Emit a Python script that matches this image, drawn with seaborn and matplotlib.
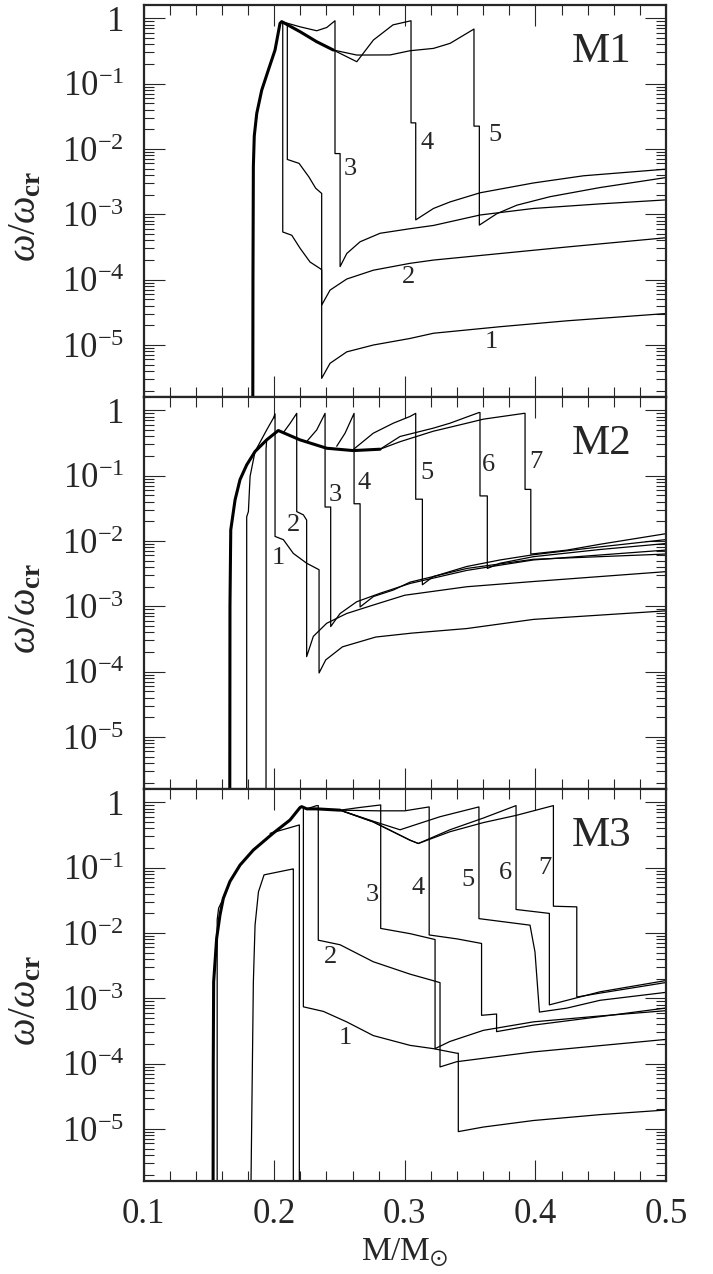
import numpy as np
import pandas as pd
import seaborn as sns
import matplotlib.pyplot as plt
from matplotlib.ticker import MultipleLocator, LogLocator, NullFormatter, FixedLocator

sns.set_style('ticks')
plt.rcParams['font.family'] = ['Liberation Serif', 'DejaVu Serif']
plt.rcParams['mathtext.fontset'] = 'custom'
plt.rcParams['mathtext.rm'] = 'Liberation Serif'
plt.rcParams['mathtext.it'] = 'Liberation Serif:italic'
plt.rcParams['mathtext.bf'] = 'Liberation Serif:bold'

# ---- data: x = M/Msun, values stored as log10(omega/omega_cr) ----
# panel M1
m1_thick_x = [0.1836, 0.1838, 0.1841, 0.1848, 0.1867, 0.1905, 0.1956, 0.2007, 0.2045, 0.2058, 0.2199, 0.2326, 0.2453]
m1_thick_lg = [-7, -4.0, -2.27, -1.80, -1.455, -1.10, -0.79, -0.485, -0.077, -0.05, -0.205, -0.358, -0.485]
m1_c1_x = [0.2058, 0.2066, 0.2066, 0.2135, 0.2199, 0.2275, 0.2352, 0.2364, 0.2364, 0.2428, 0.2556, 0.276, 0.304, 0.322, 0.373, 0.424, 0.499]
m1_c1_lg = [-0.05, -0.06, -3.27, -3.32, -3.52, -3.73, -3.83, -3.85, -5.51, -5.28, -5.105, -5.0, -4.90, -4.82, -4.72, -4.63, -4.52]
m1_c2_x = [0.2058, 0.2101, 0.2101, 0.2191, 0.2267, 0.2318, 0.2364, 0.2364, 0.2428, 0.2556, 0.276, 0.304, 0.322, 0.373, 0.424, 0.499]
m1_c2_lg = [-0.05, -0.10, -2.16, -2.22, -2.43, -2.60, -2.68, -4.39, -4.16, -3.99, -3.855, -3.75, -3.70, -3.60, -3.50, -3.36]
m1_c3_x = [0.2058, 0.2199, 0.2326, 0.2403, 0.2466, 0.2466, 0.2505, 0.2505, 0.2556, 0.2658, 0.2811, 0.304, 0.322, 0.3577, 0.3985, 0.4495, 0.499]
m1_c3_lg = [-0.05, -0.13, -0.19, -0.14, -0.037, -2.07, -2.07, -3.80, -3.60, -3.42, -3.29, -3.22, -3.17, -3.01, -2.91, -2.84, -2.78]
m1_c4_x = [0.2453, 0.2633, 0.276, 0.291, 0.3048, 0.3048, 0.3084, 0.3084, 0.322, 0.3347, 0.3577, 0.3985, 0.4368, 0.499]
m1_c4_lg = [-0.485, -0.664, -0.332, -0.10, -0.037, -1.60, -1.60, -3.085, -2.91, -2.81, -2.67, -2.52, -2.41, -2.31]
m1_c5_x = [0.2453, 0.2633, 0.2888, 0.304, 0.322, 0.3347, 0.353, 0.353, 0.3571, 0.3571, 0.3705, 0.3858, 0.4112, 0.4495, 0.499]
m1_c5_lg = [-0.485, -0.562, -0.56, -0.496, -0.46, -0.383, -0.164, -1.65, -1.65, -3.165, -2.99, -2.86, -2.73, -2.59, -2.44]

# panel M2
m2_thick_x = [0.1660, 0.1662, 0.1668, 0.1701, 0.1739, 0.1790, 0.1854, 0.1943, 0.2032, 0.2198, 0.2402, 0.2606, 0.2811]
m2_thick_lg = [-7, -3.0, -1.83, -1.37, -1.06, -0.835, -0.63, -0.452, -0.309, -0.452, -0.58, -0.616, -0.595]
m2_late_a_x = [0.1790, 0.1790, 0.1803, 0.1816, 0.1854]
m2_late_a_lg = [-7, -1.63, -1.55, -1.01, -0.63]
m2_late_b_x = [0.1938, 0.1938, 0.1943]
m2_late_b_lg = [-7, -0.60, -0.452]
m2_c1_x = [0.1854, 0.1943, 0.1994, 0.2007, 0.2007, 0.2071, 0.2147, 0.2249, 0.2344, 0.2344, 0.2395, 0.2523, 0.2778, 0.3054, 0.3475, 0.3985, 0.4993]
m2_c1_lg = [-0.63, -0.30, -0.12, -0.054, -1.93, -1.98, -2.19, -2.34, -2.44, -4.02, -3.82, -3.62, -3.47, -3.41, -3.34, -3.20, -3.07]
m2_c2_x = [0.2071, 0.2122, 0.2173, 0.2173, 0.2224, 0.2249, 0.2249, 0.2300, 0.2402, 0.2555, 0.2759, 0.3000, 0.3475, 0.3985, 0.4993]
m2_c2_lg = [-0.34, -0.20, -0.046, -1.55, -1.60, -1.68, -3.77, -3.46, -3.26, -3.11, -2.98, -2.83, -2.70, -2.62, -2.47]
m2_c3_x = [0.2249, 0.2326, 0.2390, 0.2390, 0.2433, 0.2433, 0.2505, 0.2632, 0.2811, 0.304, 0.3475, 0.3985, 0.4993]
m2_c3_lg = [-0.478, -0.30, -0.046, -1.48, -1.48, -3.31, -3.11, -2.93, -2.80, -2.65, -2.45, -2.29, -2.14]
m2_c4_x = [0.2479, 0.2543, 0.2612, 0.2612, 0.2658, 0.2658, 0.2760, 0.2913, 0.304, 0.3475, 0.3985, 0.4993]
m2_c4_lg = [-0.55, -0.35, -0.046, -1.43, -1.43, -3.01, -2.85, -2.75, -2.63, -2.42, -2.28, -2.20]
m2_c5_x = [0.2606, 0.2759, 0.2913, 0.304, 0.3084, 0.3084, 0.3135, 0.3135, 0.3218, 0.3475, 0.373, 0.3985, 0.4495, 0.4993]
m2_c5_lg = [-0.60, -0.35, -0.196, -0.094, -0.046, -1.36, -1.36, -2.67, -2.545, -2.39, -2.29, -2.21, -2.09, -1.98]
m2_c6_x = [0.2811, 0.2964, 0.3218, 0.3346, 0.3568, 0.3576, 0.3576, 0.3632, 0.3632, 0.373, 0.3985, 0.4495, 0.4993]
m2_c6_lg = [-0.595, -0.40, -0.273, -0.197, -0.034, -0.034, -1.31, -1.31, -2.42, -2.34, -2.24, -2.13, -2.04]
m2_c7_x = [0.2811, 0.2964, 0.3218, 0.3475, 0.3602, 0.3914, 0.3921, 0.3921, 0.3965, 0.3965, 0.4240, 0.4495, 0.4993]
m2_c7_lg = [-0.595, -0.48, -0.32, -0.197, -0.135, -0.046, -0.046, -1.21, -1.21, -2.20, -2.14, -2.05, -1.89]

# panel M3
m3_thick_x = [0.1532, 0.1534, 0.1537, 0.1560, 0.1586, 0.1611, 0.1662, 0.1739, 0.1841, 0.1994, 0.2122, 0.2198, 0.2211, 0.2250, 0.2326, 0.2505]
m3_thick_lg = [-7, -4.0, -2.75, -2.08, -1.72, -1.47, -1.21, -0.96, -0.73, -0.47, -0.27, -0.08, -0.066, -0.10, -0.10, -0.12]
m3_late_a_x = [0.1564, 0.1564, 0.1575, 0.1611]
m3_late_a_lg = [-7, -1.80, -1.62, -1.47]
m3_late_b_x = [0.1816, 0.1841, 0.1854, 0.1880, 0.1923, 0.2143, 0.2147, 0.2147]
m3_late_b_lg = [-7, -2.75, -1.88, -1.37, -1.11, -1.02, -1.02, -7]
m3_late_c_x = [0.1969, 0.2193, 0.2193]
m3_late_c_lg = [-0.475, -0.346, -7]
m3_c1_x = [0.2211, 0.2224, 0.2224, 0.2377, 0.2555, 0.2759, 0.3041, 0.3219, 0.3398, 0.3410, 0.3410, 0.3602, 0.3985, 0.4495, 0.4993]
m3_c1_lg = [-0.066, -0.08, -3.13, -3.20, -3.36, -3.57, -3.72, -3.77, -3.84, -3.84, -5.04, -4.97, -4.87, -4.78, -4.71]
m3_c2_x = [0.2211, 0.2250, 0.2326, 0.2338, 0.2338, 0.2505, 0.2759, 0.3041, 0.3219, 0.3270, 0.3270, 0.3398, 0.3985, 0.4993]
m3_c2_lg = [-0.066, -0.10, -0.05, -0.05, -2.11, -2.18, -2.44, -2.63, -2.73, -2.76, -4.05, -3.97, -3.82, -3.63]
m3_c3_x = [0.2505, 0.2650, 0.2816, 0.2816, 0.3041, 0.3232, 0.3232, 0.3346, 0.3602, 0.3985, 0.4495, 0.4993]
m3_c3_lg = [-0.12, -0.08, -0.04, -1.93, -2.01, -2.10, -3.77, -3.66, -3.49, -3.36, -3.27, -3.19]
m3_c4_x = [0.2505, 0.2800, 0.3000, 0.3187, 0.3187, 0.3400, 0.3588, 0.3588, 0.3703, 0.3703, 0.3985, 0.4495, 0.4993]
m3_c4_lg = [-0.12, -0.13, -0.13, -0.07, -2.03, -2.09, -2.16, -3.26, -3.24, -3.51, -3.41, -3.28, -3.15]
m3_c5_x = [0.2505, 0.2760, 0.2964, 0.3270, 0.3568, 0.3568, 0.3959, 0.3997, 0.4031, 0.4240, 0.4495, 0.4993]
m3_c5_lg = [-0.12, -0.29, -0.42, -0.22, -0.07, -1.78, -1.88, -2.29, -3.21, -3.15, -3.03, -2.91]
m3_c6_x = [0.2505, 0.2759, 0.3041, 0.3104, 0.3346, 0.3602, 0.3852, 0.3852, 0.4107, 0.4107, 0.4495, 0.4993]
m3_c6_lg = [-0.12, -0.30, -0.58, -0.63, -0.42, -0.24, -0.05, -1.64, -1.70, -3.10, -2.90, -2.73]
m3_c7_x = [0.2505, 0.2759, 0.3041, 0.3104, 0.3346, 0.3602, 0.3852, 0.4138, 0.4138, 0.4317, 0.4317, 0.4495, 0.4993]
m3_c7_lg = [-0.12, -0.30, -0.58, -0.63, -0.45, -0.31, -0.20, -0.05, -1.59, -1.60, -2.98, -2.92, -2.76]

# curve number labels: (text, x, log10 y)
m1_labels = [('1', 0.3666, -4.95), ('2', 0.3028, -3.96), ('3', 0.2581, -2.30), ('4', 0.3173, -1.905), ('5', 0.3691, -1.787)]
m2_labels = [('1', 0.2032, -2.26), ('2', 0.2147, -1.75), ('3', 0.2466, -1.29), ('4', 0.2688, -1.115),
             ('5', 0.3168, -0.962), ('6', 0.3640, -0.835), ('7', 0.4005, -0.784)]
m3_labels = [('1', 0.2543, -3.61), ('2', 0.2428, -2.36), ('3', 0.2752, -1.42), ('4', 0.3104, -1.317),
             ('5', 0.3487, -1.19), ('6', 0.3768, -1.087), ('7', 0.4074, -1.01)]

panels = [
    ('M1', m1_thick_x, m1_thick_lg,
     {'c1': (m1_c1_x, m1_c1_lg), 'c2': (m1_c2_x, m1_c2_lg), 'c3': (m1_c3_x, m1_c3_lg),
      'c4': (m1_c4_x, m1_c4_lg), 'c5': (m1_c5_x, m1_c5_lg)}, m1_labels),
    ('M2', m2_thick_x, m2_thick_lg,
     {'la': (m2_late_a_x, m2_late_a_lg), 'lb': (m2_late_b_x, m2_late_b_lg),
      'c1': (m2_c1_x, m2_c1_lg), 'c2': (m2_c2_x, m2_c2_lg), 'c3': (m2_c3_x, m2_c3_lg),
      'c4': (m2_c4_x, m2_c4_lg), 'c5': (m2_c5_x, m2_c5_lg), 'c6': (m2_c6_x, m2_c6_lg),
      'c7': (m2_c7_x, m2_c7_lg)}, m2_labels),
    ('M3', m3_thick_x, m3_thick_lg,
     {'la': (m3_late_a_x, m3_late_a_lg), 'lb': (m3_late_b_x, m3_late_b_lg), 'lc': (m3_late_c_x, m3_late_c_lg),
      'c1': (m3_c1_x, m3_c1_lg), 'c2': (m3_c2_x, m3_c2_lg), 'c3': (m3_c3_x, m3_c3_lg),
      'c4': (m3_c4_x, m3_c4_lg), 'c5': (m3_c5_x, m3_c5_lg), 'c6': (m3_c6_x, m3_c6_lg),
      'c7': (m3_c7_x, m3_c7_lg)}, m3_labels),
]

fig, axes = plt.subplots(3, 1, figsize=(7.13, 12.74), dpi=100, sharex=True)
fig.subplots_adjust(left=143.5 / 713, right=666 / 713, top=1 - 5 / 1274, bottom=1 - 1181 / 1274, hspace=0)

ytick_vals = [1, 1e-1, 1e-2, 1e-3, 1e-4, 1e-5]
ytick_txt = ['1', r'$\mathregular{10^{-1}}$', r'$\mathregular{10^{-2}}$', r'$\mathregular{10^{-3}}$',
             r'$\mathregular{10^{-4}}$', r'$\mathregular{10^{-5}}$']

for ax, (name, tx, tl, curves, labels) in zip(axes, panels):
    ax.set_yscale('log')
    frames = [pd.DataFrame({'x': cx, 'w': np.power(10.0, cl), 'curve': key}) for key, (cx, cl) in curves.items()]
    df = pd.concat(frames, ignore_index=True)
    sns.lineplot(data=df, x='x', y='w', units='curve', estimator=None, sort=False,
                 color='black', lw=0.9, ax=ax, legend=False)
    thick = pd.DataFrame({'x': tx, 'w': np.power(10.0, tl)})
    sns.lineplot(data=thick, x='x', y='w', estimator=None, sort=False, color='black', lw=2.2, ax=ax)

    for txt, lx, ly in labels:
        ax.text(lx, 10 ** ly, txt, fontsize=19, ha='center', va='center')
    ax.text(0.4508, 10 ** -0.51, name, fontsize=31, ha='center', va='center')

    ax.set_xlim(0.1, 0.5)
    ax.set_ylim(1.6e-6, 1.6)
    ax.yaxis.set_major_locator(FixedLocator(ytick_vals))
    ax.set_yticklabels(ytick_txt)
    ax.yaxis.set_minor_locator(LogLocator(base=10, subs=np.arange(2, 10), numticks=100))
    ax.yaxis.set_minor_formatter(NullFormatter())
    ax.xaxis.set_major_locator(MultipleLocator(0.1))
    ax.xaxis.set_minor_locator(MultipleLocator(0.02))
    ax.tick_params(which='both', direction='in', top=True, right=True, width=0.8, labelsize=25)
    ax.tick_params(which='major', length=15)
    ax.tick_params(axis='y', which='major', pad=14)
    ax.tick_params(axis='x', which='major', pad=12)
    ax.tick_params(which='minor', length=7.5)
    for sp in ax.spines.values():
        sp.set_linewidth(1.6)
    ax.set_ylabel(r'$\omega/\omega_{\mathbf{cr}}$', fontsize=28)
    ax.yaxis.set_label_coords(-0.19, 0.46)
    ax.set_xlabel('')

axes[-1].xaxis.set_major_formatter(plt.FuncFormatter(lambda v, p: f'{v:.1f}'))
axes[-1].set_xlabel(r'$\mathregular{M/M_{\odot}}$', fontsize=24, labelpad=4)

fig.savefig('out.png', dpi=100)
